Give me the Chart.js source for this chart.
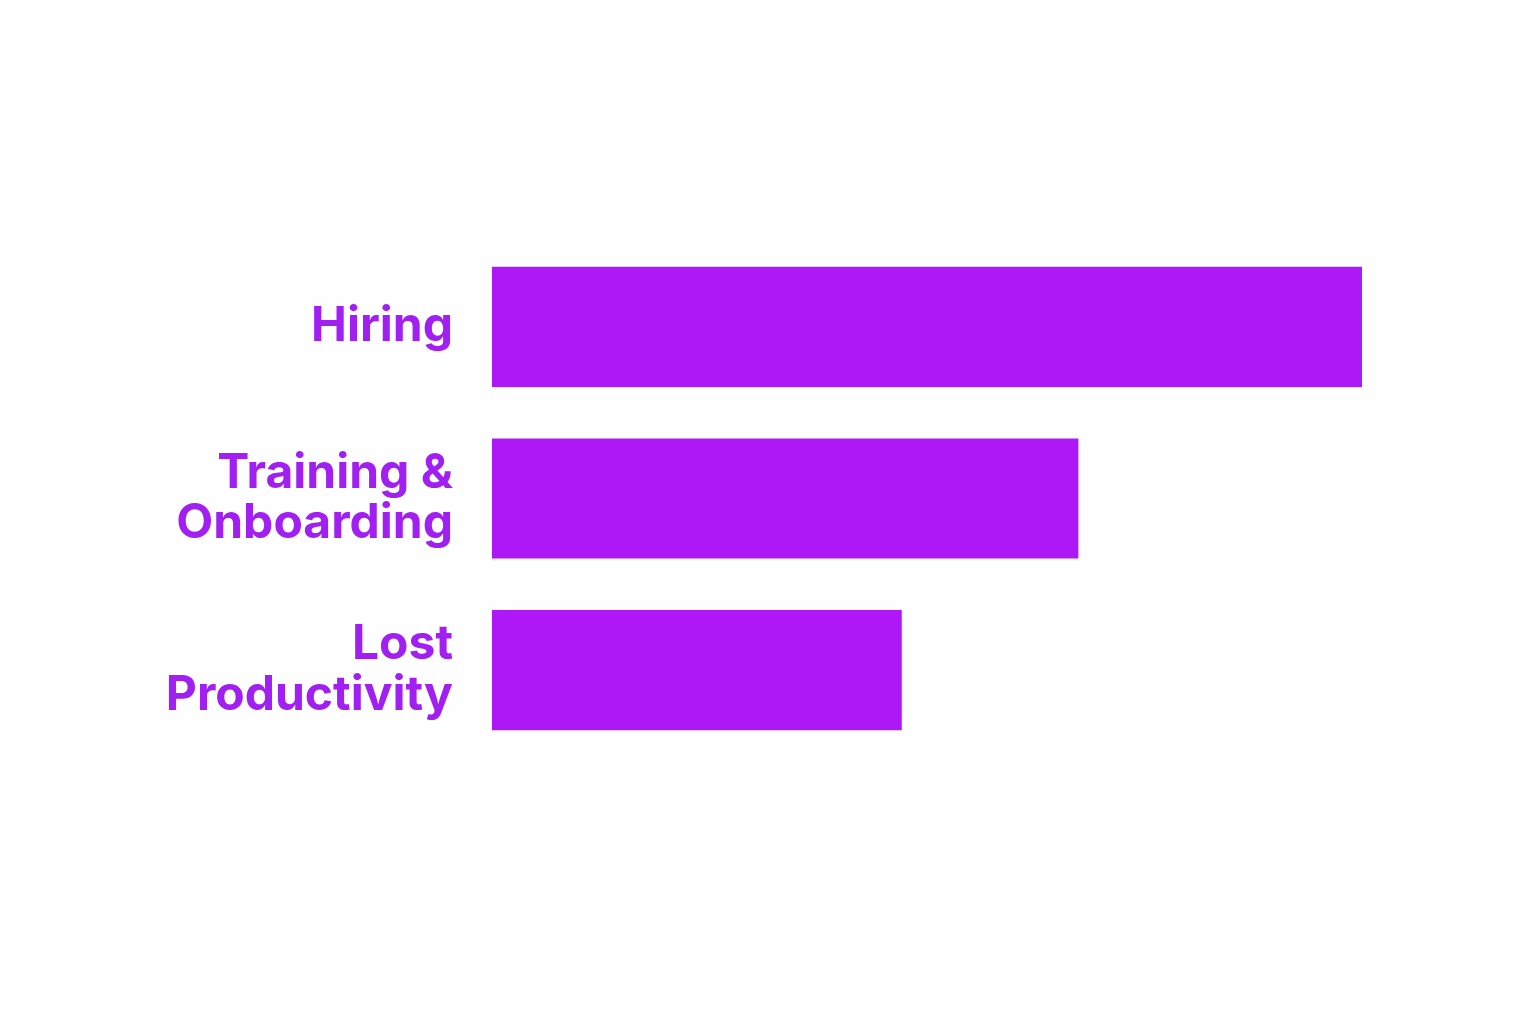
<!DOCTYPE html>
<html>
<head>
<meta charset="utf-8">
<script src="https://cdn.jsdelivr.net/npm/chart.js@4"></script>
<style>
html,body{margin:0;padding:0;background:#fefefe;}
#wrap{width:1536px;height:1024px;}
</style>
</head>
<body>
<div id="wrap"><canvas id="c" width="1536" height="1024"></canvas></div>
<script>
const categories = [["Hiring"], ["Training &", "Onboarding"], ["Lost", "Productivity"]];
const costShare = [100, 67.4, 47.1];

const barColor = "#ae18f7";
const textColor = "#a11ff0";

new Chart(document.getElementById("c"), {
  type: "bar",
  data: {
    labels: categories,
    datasets: [{
      data: costShare,
      backgroundColor: barColor,
      borderWidth: 0,
      categoryPercentage: 1.0,
      barPercentage: 0.7
    }]
  },
  options: {
    indexAxis: "y",
    responsive: false,
    animation: false,
    devicePixelRatio: 1,
    layout: { padding: { top: 241, bottom: 268, left: 0, right: 174 } },
    plugins: { legend: { display: false }, tooltip: { enabled: false } },
    scales: {
      x: { display: false, min: 0, max: 100 },
      y: {
        grid: { display: false, drawTicks: false },
        border: { display: false },
        afterFit: (s) => { s.width = 492; },
        ticks: {
          color: textColor,
          padding: 39,
          font: { family: "Inter", size: 48, weight: "700", lineHeight: 1.05 }
        }
      }
    }
  }
});
</script>
</body>
</html>
